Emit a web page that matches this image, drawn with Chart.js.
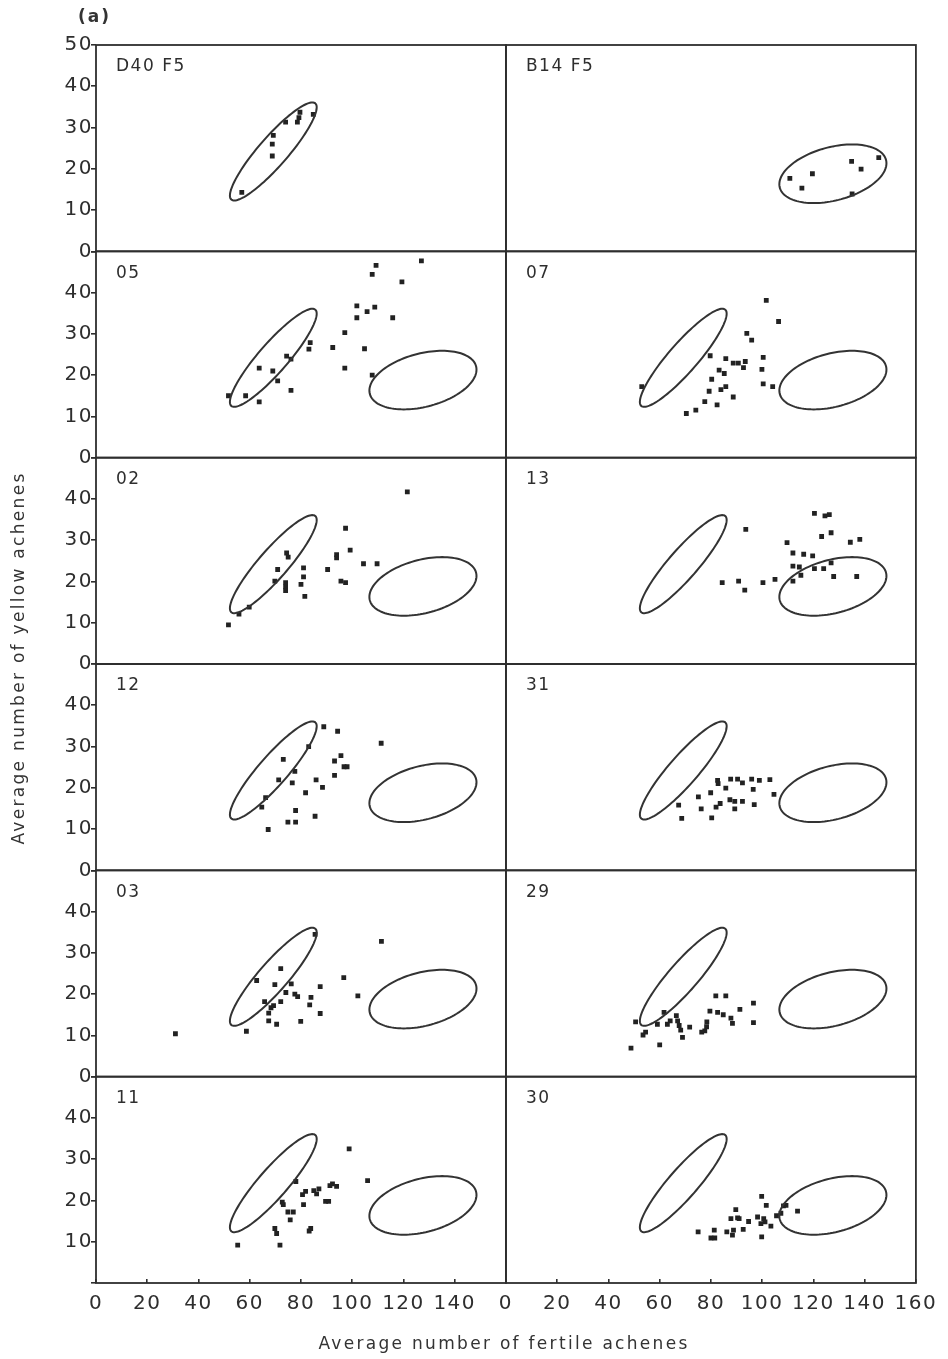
<!DOCTYPE html>
<html>
<head>
<meta charset="utf-8">
<title>Yellow vs fertile achenes</title>
<script src="https://cdn.jsdelivr.net/npm/chart.js@4.4.1/dist/chart.umd.min.js"></script>
<style>
    body { margin: 0; background: #fff; }
    #wrap { position: relative; width: 948px; height: 1359px; overflow: hidden; }
    #chart { position: absolute; left: 0; top: 0; }
    .txt { position: absolute; font-family: "DejaVu Sans", sans-serif; color: #333; white-space: nowrap; }
    #tag { left: 78px; top: 5px; font-size: 17px; font-weight: bold; letter-spacing: 2px; line-height: 22px; }
    #ytitle { left: -192px; top: 648px; width: 420px; height: 20px; line-height: 20px; text-align: center;
              font-size: 17px; letter-spacing: 2.3px; transform: rotate(-90deg); }
    #xtitle { left: 254px; top: 1333px; width: 500px; line-height: 20px; text-align: center;
              font-size: 17px; letter-spacing: 2.3px; }
</style>
</head>
<body>
<div id="wrap">
    <canvas id="chart" width="948" height="1359"></canvas>
    <div class="txt" id="tag">(a)</div>
    <div class="txt" id="ytitle">Average number of yellow achenes</div>
    <div class="txt" id="xtitle">Average number of fertile achenes</div>
</div>
<script>
// panels, read left to right, top to bottom
const panelNames = ['D40 F5', 'B14 F5', '05', '07', '02', '13', '12', '31', '03', '29', '11', '30'];
const xTicks = [0, 20, 40, 60, 80, 100, 120, 140, 160];
const yTicks = [0, 10, 20, 30, 40, 50];

// [fertile, yellow] per plant
const d40f5 = [[56.9,14.3],[68.8,23.1],[68.8,26.0],[69.2,28.1],[74.0,31.3],[78.6,31.3],[79.2,32.4],[79.6,33.7],[84.8,33.2]];
const b14f5 = [[110.8,17.7],[115.5,15.3],[119.6,18.8],[134.9,21.8],[138.6,19.9],[145.5,22.7],[135.1,13.9]];
const p05 = [[51.7,15.0],[58.4,15.0],[63.7,13.5],[63.7,21.7],[69.0,21.0],[70.9,18.6],[74.4,24.6],[76.1,23.9],[76.1,16.3],
    [83.1,26.3],[83.6,27.9],[92.4,26.7],[97.1,21.7],[97.1,30.3],[101.8,36.8],[101.8,33.9],[104.8,26.4],[105.8,35.4],
    [107.8,44.4],[109.3,46.6],[108.8,36.5],[107.8,20.0],[115.8,33.9],[119.4,42.6],[127.0,47.7]];
const p07 = [[53.0,17.2],[70.4,10.7],[74.1,11.5],[77.6,13.6],[82.4,12.8],[79.3,16.1],[80.3,19.0],[79.7,24.7],[83.9,16.5],
    [85.8,17.2],[83.2,21.2],[85.2,20.4],[85.8,24.0],[88.7,14.7],[88.7,22.9],[90.7,22.9],[92.7,21.8],[93.4,23.3],
    [94.0,30.1],[95.9,28.5],[100.4,24.3],[99.9,21.4],[100.4,17.9],[104.1,17.2],[101.6,38.1],[106.4,33.0]];
const p02 = [[51.7,9.5],[55.8,12.1],[59.8,13.8],[69.8,20.1],[70.9,22.9],[74.4,26.9],[75.0,25.9],[74.0,19.7],[74.0,18.7],
    [74.0,17.8],[80.0,19.3],[81.0,23.3],[81.0,21.1],[81.5,16.4],[90.4,22.9],[93.9,26.5],[93.9,25.7],[95.6,20.1],
    [97.4,19.7],[97.4,32.9],[99.2,27.6],[104.4,24.3],[109.7,24.3],[121.5,41.7]];
const p13 = [[84.4,19.7],[90.8,20.1],[93.2,17.9],[93.6,32.6],[100.3,19.7],[105.0,20.5],[109.7,29.4],[112.0,26.9],[112.0,23.7],
    [112.0,20.1],[114.5,23.5],[115.1,21.5],[116.2,26.6],[119.7,26.2],[120.4,23.1],[120.4,36.5],[123.2,30.9],[124.0,23.1],
    [124.5,35.9],[126.2,36.2],[126.9,31.8],[126.9,24.5],[127.9,21.2],[134.4,29.5],[138.1,30.2],[136.9,21.2]];
const p12 = [[67.2,9.9],[64.7,15.3],[66.2,17.6],[71.3,21.9],[73.1,26.9],[76.6,21.2],[77.6,24.0],[77.9,14.5],[74.9,11.7],
    [77.9,11.7],[81.8,18.8],[83.0,30.0],[85.5,13.1],[85.9,21.9],[88.4,20.1],[88.9,34.8],[93.1,23.0],[93.1,26.5],
    [94.3,33.7],[95.6,27.8],[96.8,25.1],[98.0,25.1],[111.3,30.8]];
const p31 = [[67.4,15.8],[68.6,12.6],[75.1,17.8],[76.2,14.9],[79.9,18.8],[80.3,12.7],[82.6,21.8],[82.8,21.0],[82.0,15.3],
    [83.6,16.2],[85.8,19.9],[87.7,22.1],[87.4,17.1],[89.3,16.7],[89.3,14.9],[90.4,22.1],[92.3,21.2],[92.3,16.7],
    [95.9,22.1],[96.5,19.6],[96.9,15.9],[98.9,21.8],[103.0,22.0],[104.6,18.4]];
const p03 = [[31.0,10.4],[58.7,11.0],[62.7,23.3],[65.8,18.2],[67.4,15.4],[67.4,13.5],[68.3,16.7],[69.3,17.2],[69.8,22.3],
    [70.5,12.7],[72.1,26.2],[72.1,18.2],[74.1,20.4],[76.2,22.5],[77.6,20.0],[78.7,19.4],[79.9,13.4],[83.4,17.4],
    [83.9,19.2],[85.5,34.5],[87.5,21.8],[87.5,15.3],[96.7,24.0],[102.2,19.6],[111.4,32.8]];
const p29 = [[48.8,6.9],[50.6,13.3],[53.5,10.1],[54.5,10.8],[59.1,12.7],[60.0,7.7],[61.7,15.6],[63.0,12.7],[64.1,13.5],
    [66.5,14.8],[67.0,13.5],[67.6,12.4],[68.2,11.3],[68.9,9.5],[71.7,12.0],[76.4,10.8],[77.6,11.1],[78.3,12.1],
    [78.4,13.3],[79.6,15.9],[81.9,19.6],[85.8,19.6],[82.6,15.6],[84.8,15.0],[87.8,14.2],[88.4,12.9],[91.3,16.3],
    [96.6,17.8],[96.6,13.1]];
const p11 = [[55.3,9.2],[69.8,13.2],[70.5,12.0],[71.8,9.2],[72.7,19.6],[73.1,19.0],[74.9,17.2],[77.0,17.2],[75.8,15.3],
    [78.0,24.6],[81.0,19.0],[80.6,21.4],[81.8,22.2],[83.2,12.6],[83.8,13.2],[85.0,22.4],[86.1,21.6],[87.0,22.8],
    [89.6,19.8],[90.8,19.8],[91.3,23.6],[92.3,24.0],[93.9,23.4],[98.8,32.5],[106.0,24.8]];
const p30 = [[75.0,12.4],[80.0,10.9],[81.5,10.9],[81.3,12.8],[86.2,12.4],[87.8,15.6],[88.4,11.6],[88.8,12.8],[89.7,17.8],
    [90.4,15.8],[91.0,15.6],[92.6,13.0],[94.7,14.9],[98.2,16.0],[99.8,21.0],[99.8,11.2],[99.5,14.4],[100.6,15.6],
    [101.6,18.8],[101.1,14.8],[103.4,13.8],[105.6,16.3],[107.3,16.9],[108.3,18.7],[109.3,18.8],[113.8,17.4]];

const panelData = [d40f5, b14f5, p05, p07, p02, p13, p12, p31, p03, p29, p11, p30];

// parent ellipses: centre plus two conjugate half-diameters, in data units
const ellipseD40 = { cx: 69.2, cy: 24.2, ax: 16.4, ay: 11.65, bx: -4.23, by: 2.34 };
const ellipseB14 = { cx: 127.6, cy: 18.8, ax: 20.9, ay: 2.54, bx: 0, by: 6.63 };
const panelEllipses = panelData.map((d, i) => i === 0 ? [ellipseD40] : i === 1 ? [ellipseB14] : [ellipseD40, ellipseB14]);

const ink = '#2e2e2e';
const tickFont = { family: 'DejaVu Sans', size: 20 };

function yScale(row) {
    return {
        type: 'linear',
        position: 'left',
        stack: 'rows',
        stackWeight: 1,
        weight: 6 - row,
        min: 0,
        max: 50,
        afterBuildTicks: s => { s.ticks = yTicks.map(v => ({ value: v })); },
        afterFit: s => { s.width = 96; },
        ticks: {
            autoSkip: false,
            padding: -2,
            color: ink,
            font: tickFont,
            callback: v => {
                if (v === 50 && row !== 0) return '';
                if (v === 0 && row === 5) return '';
                return String(v);
            }
        },
        grid: { drawOnChartArea: false, tickLength: 5, color: ink, lineWidth: 1.6 },
        border: { display: false }
    };
}

function xScale(col) {
    return {
        type: 'linear',
        position: 'bottom',
        stack: 'cols',
        stackWeight: 1,
        weight: col,
        min: 0,
        max: 160,
        afterBuildTicks: s => { s.ticks = xTicks.map(v => ({ value: v })); },
        afterFit: s => { s.height = 76; },
        ticks: {
            autoSkip: false,
            maxRotation: 0,
            padding: 13,
            color: ink,
            font: tickFont,
            callback: v => (v === 160 && col === 0) ? '' : String(v)
        },
        grid: { drawOnChartArea: false, tickLength: -4, color: ink, lineWidth: 1.6 },
        border: { display: false }
    };
}

const scales = { xL: xScale(0), xR: xScale(1) };
for (let r = 0; r < 6; r++) scales['y' + r] = yScale(r);

// frames, ellipses and panel names
const panelPlugin = {
    id: 'panels',
    beforeDraw(chart) {
        chart.ctx.letterSpacing = '1.5px';
    },
    afterDatasetsDraw(chart) {
        const ctx = chart.ctx;
        chart.data.datasets.forEach((ds, i) => {
            const meta = chart.getDatasetMeta(i);
            const xs = meta.xScale, ys = meta.yScale;

            ctx.save();
            ctx.beginPath();
            ctx.rect(xs.left, ys.top, xs.right - xs.left, ys.bottom - ys.top);
            ctx.clip();
            ctx.strokeStyle = '#333';
            ctx.lineWidth = 2;
            panelEllipses[i].forEach(e => {
                ctx.beginPath();
                for (let k = 0; k <= 120; k++) {
                    const t = k / 120 * Math.PI * 2;
                    const px = xs.getPixelForValue(e.cx + e.ax * Math.cos(t) + e.bx * Math.sin(t));
                    const py = ys.getPixelForValue(e.cy + e.ay * Math.cos(t) + e.by * Math.sin(t));
                    if (k === 0) ctx.moveTo(px, py); else ctx.lineTo(px, py);
                }
                ctx.closePath();
                ctx.stroke();
            });
            ctx.restore();

            ctx.save();
            ctx.strokeStyle = ink;
            ctx.lineWidth = 1.8;
            ctx.strokeRect(xs.left, ys.top, xs.right - xs.left, ys.bottom - ys.top);
            ctx.fillStyle = ink;
            ctx.font = '17px "DejaVu Sans"';
            ctx.letterSpacing = '1.5px';
            ctx.textBaseline = 'middle';
            ctx.textAlign = 'left';
            ctx.fillText(panelNames[i], xs.left + 20, ys.top + 22);
            ctx.restore();
        });
    }
};

const datasets = panelData.map((pts, i) => ({
    label: panelNames[i],
    data: pts.map(p => ({ x: p[0], y: p[1] })),
    xAxisID: i % 2 ? 'xR' : 'xL',
    yAxisID: 'y' + Math.floor(i / 2),
    pointStyle: 'rect',
    pointRadius: 3.4,
    pointBorderWidth: 0,
    pointBackgroundColor: '#222'
}));

const ctx = document.getElementById('chart').getContext('2d');
const achenesChart = new Chart(ctx, {
    type: 'scatter',
    data: { datasets: datasets },
    options: {
        responsive: false,
        animation: false,
        devicePixelRatio: 1,
        events: [],
        layout: { padding: { left: 0, top: 45, right: 30, bottom: 0 } },
        plugins: { legend: { display: false }, tooltip: { enabled: false } },
        scales: scales
    },
    plugins: [panelPlugin]
});
</script>
</body>
</html>
